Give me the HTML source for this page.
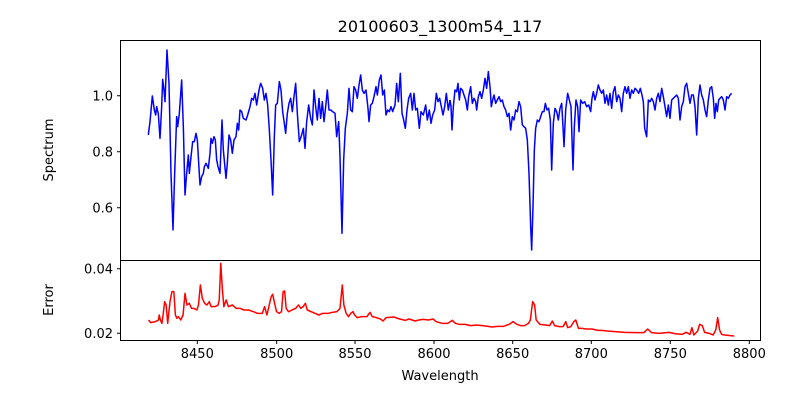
<!DOCTYPE html>
<html><head><meta charset="utf-8"><style>
html,body{margin:0;padding:0;background:#fff;}
svg{display:block;font-family:"DejaVu Sans","Liberation Sans",sans-serif;}
</style></head><body>
<svg width="800" height="400" viewBox="0 0 800 400">
<rect width="800" height="400" fill="#fff"/>
<text x="440" y="32" font-size="16" text-anchor="middle">20100603_1300m54_117</text>
<g transform="translate(140,40) scale(0.33333)">
<polyline fill="none" stroke="#0000ff" stroke-width="1.5" vector-effect="non-scaling-stroke" stroke-linejoin="round" points="25,285 30,245 37,168 43,210 47,225 50,200 55,222 60,295 65,200 68,118 72,150 75,185 81,30 87,130 93,400 99,570 104,400 110,230 113,260 118,220 125,120 130,260 135,465 140,400 145,345 148,400 152,360 158,305 163,305 168,280 172,300 180,435 185,410 190,400 193,380 198,370 205,385 210,340 213,295 217,310 222,290 226,300 230,360 234,380 240,400 246,240 250,330 258,415 262,370 267,285 272,300 277,340 282,300 288,290 292,250 296,270 300,210 305,215 310,235 318,240 323,225 330,200 335,175 340,180 345,160 350,195 357,150 362,130 368,145 373,180 378,160 383,195 388,270 393,360 398,465 403,290 407,195 412,190 418,125 423,150 428,215 433,250 437,280 442,220 447,190 452,175 457,215 462,170 467,130 472,220 478,305 485,285 490,265 495,325 500,245 506,195 512,235 517,255 522,150 527,200 532,240 537,175 542,235 547,185 552,245 557,200 562,150 567,210 572,210 578,215 585,220 590,290 596,245 600,350 606,580 611,360 616,265 622,220 627,145 632,210 637,215 642,140 647,150 652,175 657,135 662,105 667,150 672,160 678,150 684,205 687,245 692,195 697,190 702,170 708,140 712,165 718,120 723,105 728,165 733,150 738,225 743,210 748,215 753,200 758,215 765,195 770,130 775,185 781,100 786,220 790,235 796,265 801,210 806,175 812,160 817,210 822,160 827,210 832,205 838,265 843,215 850,225 857,195 862,240 868,210 873,250 878,225 884,210 889,160 894,185 899,175 904,200 909,225 914,200 919,160 925,210 930,180"/>
</g>
<g transform="translate(440,40) scale(0.33333)">
<polyline fill="none" stroke="#0000ff" stroke-width="1.5" vector-effect="non-scaling-stroke" stroke-linejoin="round" points="30,180 33,200 36,270 40,200 45,150 50,155 54,130 58,180 62,145 67,150 72,165 77,180 82,210 86,170 92,140 97,190 102,175 107,185 110,210 115,170 120,155 125,175 130,150 135,115 140,145 145,95 150,140 154,200 158,180 162,165 167,190 172,180 177,170 182,185 187,180 192,200 197,210 202,230 207,220 212,270 217,230 222,240 227,210 232,215 237,185 242,200 247,255 252,260 257,265 262,300 267,400 272,560 275,630 279,500 283,330 287,265 292,240 297,245 302,230 307,215 312,215 316,190 321,210 326,205 331,240 335,390 340,250 345,205 350,215 355,240 360,205 365,190 369,260 372,320 377,210 383,160 388,180 393,200 399,390 403,260 408,180 413,200 417,275 422,180 428,190 434,185 440,200 446,195 452,215 456,175 460,155 465,180 470,160 475,135 480,150 485,160 490,150 495,190 500,165 505,195 510,160 515,205 520,155 525,140 530,185 535,165 540,175 545,215 550,160 555,140 560,160 565,140 570,175 575,150 580,160 585,145 590,150 596,160 601,145 606,165 610,185 614,265 620,290 625,180 630,185 635,175 640,185 645,210 650,175 655,160 660,185 665,145 670,170 675,200 680,230 685,195 690,235 695,180 700,175 705,170 710,165 715,175 720,240 725,200 730,185 735,140 740,130 745,160 750,190 755,165 760,165 765,200 770,285 775,175 780,135 785,165 790,180 795,210 800,230 805,180 810,145 815,140 820,175 824,235 828,190 832,215 836,180 840,175 845,170 850,180 855,210 860,170 865,175 870,165 875,160"/>
</g>
<g transform="translate(140,255) scale(0.384615,0.33333)">
<polyline fill="none" stroke="#ff0000" stroke-width="1.5" vector-effect="non-scaling-stroke" stroke-linejoin="round" points="22,195 28,203 40,200 48,195 50,180 53,195 57,205 60,180 64,140 68,150 72,205 78,140 83,110 88,110 92,180 96,190 100,185 106,195 112,180 117,115 122,150 128,145 134,160 140,160 148,165 152,150 157,90 162,130 168,145 174,150 180,140 185,155 195,155 203,150 206,135 210,25 214,100 218,155 224,135 230,155 240,150 250,160 260,160 270,165 282,165 295,170 305,175 318,175 324,155 330,180 336,150 341,125 345,118 349,140 355,170 362,175 368,170 372,110 376,108 380,160 386,170 395,165 405,160 412,150 418,160 424,155 430,145 435,165 445,170 455,175 465,180 475,175 490,175 500,172 512,170 520,160 526,90 530,150 536,175 542,185 548,175 554,170 558,180 565,188 575,185 590,185 598,172 604,185 615,188 625,192 632,198 640,188 660,186 675,192 690,196 700,192 715,198 725,195 735,193 750,195 762,192 770,200 785,205 800,205 812,196 820,205 830,208 845,208 860,212 875,210 890,212 905,214 915,216 930,214 945,214 960,208 970,200 980,208 990,212 1000,212 1010,205 1015,195 1018,165 1021,140 1026,150 1030,195 1040,208 1055,210 1065,212 1072,198 1078,212 1090,215 1100,215 1107,200 1112,218 1120,215 1128,200 1133,195 1140,220 1150,220 1160,222 1175,222 1190,226 1200,226 1215,228 1235,230 1260,232 1290,233 1310,233 1320,222 1330,233 1350,235 1375,232 1390,236 1410,238 1420,232 1430,238 1435,218 1440,240 1450,228 1455,208 1462,212 1468,232 1480,235 1490,240 1497,225 1502,188 1507,225 1512,238 1520,240 1535,242 1545,243"/>
</g>
<g fill="none" stroke="#000" stroke-width="1">
<rect x="120.5" y="40.5" width="640" height="220"/>
<rect x="120.5" y="260.5" width="640" height="80"/>
<path d="M117 95.7H120.5M117 151.7H120.5M117 207.7H120.5M117 268.7H120.5M117 333.3H120.5"/>
<path d="M197.3 340.5V344M276.7 340.5V344M355 340.5V344M434 340.5V344M512.7 340.5V344M591.3 340.5V344M670.3 340.5V344M749.3 340.5V344"/>
</g>
<g font-size="13" fill="#000">
<g text-anchor="end">
<text x="113" y="100.5">1.0</text>
<text x="113" y="156.5">0.8</text>
<text x="113" y="212.5">0.6</text>
<text x="113" y="273.5">0.04</text>
<text x="113" y="338">0.02</text>
</g>
<g text-anchor="middle">
<text x="197.3" y="358">8450</text>
<text x="276.7" y="358">8500</text>
<text x="355" y="358">8550</text>
<text x="434" y="358">8600</text>
<text x="512.7" y="358">8650</text>
<text x="591.3" y="358">8700</text>
<text x="670.3" y="358">8750</text>
<text x="749.3" y="358">8800</text>
<text x="440" y="380">Wavelength</text>
<text transform="translate(53,150) rotate(-90)">Spectrum</text>
<text transform="translate(53,300) rotate(-90)">Error</text>
</g>
</g>
</svg>
</body></html>
